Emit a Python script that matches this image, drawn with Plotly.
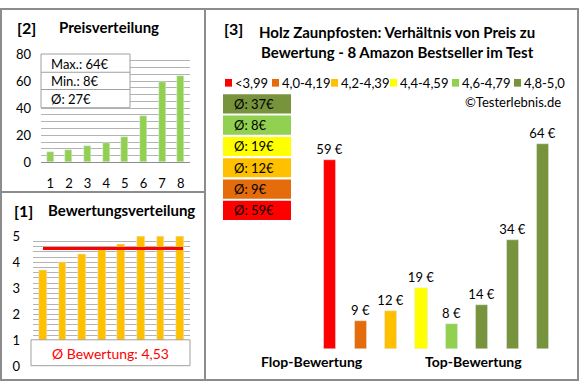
import plotly.graph_objects as go

# ---------------- data ----------------
ranks = ["1", "2", "3", "4", "5", "6", "7", "8"]
prices_sorted = [8, 9, 12, 14, 19, 34, 59, 64]
ratings_sorted = [3.7, 4.0, 4.3, 4.5, 4.7, 5.0, 5.0, 5.0]
rating_avg = 4.53
price_stats = ["Max.: 64€", "Min.: 8€", "Ø: 27€"]

bar_prices = [59, 9, 12, 19, 8, 14, 34, 64]
bar_groups = [0, 1, 2, 3, 4, 5, 5, 5]
group_labels = ["<3,99", "4,0-4,19", "4,2-4,39", "4,4-4,59", "4,6-4,79", "4,8-5,0"]
group_colors = ["#FF0000", "#E46C0A", "#FFC000", "#FFFF00", "#92D050", "#77933C"]
group_avgs = [59, 9, 12, 19, 8, 37]

W, H = 580, 390
FONT = "Lato"


def px(x):
    return x / W


def py(y):
    return 1 - y / H


fig = go.Figure()

# [2] Preisverteilung
fig.add_trace(go.Bar(x=ranks, y=prices_sorted, marker_color="#92D050", width=0.38,
                     xaxis="x", yaxis="y", showlegend=False))
# [1] Bewertungsverteilung
fig.add_trace(go.Bar(x=ranks, y=ratings_sorted, marker_color="#FFC000", width=0.4,
                     xaxis="x2", yaxis="y2", showlegend=False))
# [3] price vs rating
fig.add_trace(go.Bar(x=list(range(len(bar_prices))), y=bar_prices,
                     marker_color=[group_colors[g] for g in bar_groups], width=0.4,
                     text=[f"{p} €" for p in bar_prices], textposition="outside",
                     constraintext="none",
                     textfont=dict(family=FONT, size=13, color="#000"),
                     cliponaxis=False, xaxis="x3", yaxis="y3", showlegend=False))

GRID = "#B3B3B3"
shapes = []
annotations = []


def ann(text, x, y, size=12, bold=False, xanchor="left", color="#000"):
    if bold:
        text = f"<b>{text}</b>"
    annotations.append(dict(text=text, x=px(x), y=py(y), xref="paper", yref="paper",
                            xanchor=xanchor, yanchor="middle", showarrow=False,
                            font=dict(family=FONT, size=size, color=color)))


def rect(x0, y0, x1, y1, fill="white", line="#A0A0A0", lw=1):
    shapes.append(dict(type="rect", xref="paper", yref="paper",
                       x0=px(x0), x1=px(x1), y0=py(y0), y1=py(y1),
                       fillcolor=fill, line=dict(color=line, width=lw), layer="above"))


# panel borders
BORDER = "#8C8C8C"
shapes.append(dict(type="rect", xref="paper", yref="paper", x0=px(1), x1=px(578), y0=py(388), y1=py(1),
                   line=dict(color=BORDER, width=2), layer="above"))
shapes.append(dict(type="line", xref="paper", yref="paper", x0=px(205), x1=px(205), y0=py(388), y1=py(1),
                   line=dict(color=BORDER, width=2), layer="above"))
shapes.append(dict(type="line", xref="paper", yref="paper", x0=px(1), x1=px(205), y0=py(192), y1=py(192),
                   line=dict(color=BORDER, width=2), layer="above"))

# [2] titles + info box
ann("[2]", 15, 20, size=16, bold=True)
ann("Preisverteilung", 57, 20, size=15, bold=True)
rect(41, 48, 130, 104)
shapes.append(dict(type="line", xref="paper", yref="paper", x0=px(41), x1=px(130), y0=py(67), y1=py(67),
                   line=dict(color="#A0A0A0", width=1), layer="above"))
shapes.append(dict(type="line", xref="paper", yref="paper", x0=px(41), x1=px(130), y0=py(85), y1=py(85),
                   line=dict(color="#A0A0A0", width=1), layer="above"))
for i, s in enumerate(price_stats):
    ann(s, 49, 58 + i * 18.5, size=13)

# [1] titles + avg box + line
ann("[1]", 12, 211, size=16, bold=True)
ann("Bewertungsverteilung", 46, 211, size=15, bold=True)
rect(31, 346, 190, 373)
ann(f"Ø Bewertung: {str(rating_avg).replace('.', ',')}", 110, 360, size=14, xanchor="center", color="#FF0000")
shapes.append(dict(type="line", xref="paper", yref="y2", x0=px(43), x1=px(183),
                   y0=rating_avg, y1=rating_avg, line=dict(color="#FF0000", width=3), layer="above"))

# [3] titles
ann("[3]", 222, 21, size=16, bold=True)
ann("Holz Zaunpfosten: Verhältnis von Preis zu", 397, 25, size=15, bold=True, xanchor="center")
ann("Bewertung - 8 Amazon Bestseller im Test", 397, 46, size=15, bold=True, xanchor="center")

# legend row
sq_x = [225, 272, 331, 390, 452, 514]
for i, (lab, col) in enumerate(zip(group_labels, group_colors)):
    x0 = sq_x[i]
    shapes.append(dict(type="rect", xref="paper", yref="paper", x0=px(x0), x1=px(x0 + 7),
                       y0=py(82), y1=py(74), fillcolor=col, line=dict(width=0), layer="above"))
    ann(lab.replace("<", "&lt;"), x0 + 8, 78, size=13)

ann("©Testerlebnis.de", 563, 98, size=13, xanchor="right")

# average boxes (top: best rating group)
for row, gi in enumerate(reversed(range(len(group_labels)))):
    top = 90 + row * 22.2
    shapes.append(dict(type="rect", xref="paper", yref="paper", x0=px(223), x1=px(291),
                       y0=py(top + 20), y1=py(top), fillcolor=group_colors[gi],
                       line=dict(width=0), layer="above"))
    ann(f"Ø: {group_avgs[gi]}€", 232, top + 10, size=13)

ann("Flop-Bewertung", 312, 369, size=14, bold=True, xanchor="center")
ann("Top-Bewertung", 473, 369, size=14, bold=True, xanchor="center")

tickfont = dict(family=FONT, size=13, color="#000")

fig.update_layout(
    width=W, height=H, margin=dict(l=0, r=0, t=0, b=0),
    paper_bgcolor="white", plot_bgcolor="white",
    bargap=0, shapes=shapes, annotations=annotations,
    font=dict(family=FONT, color="#000"),
    xaxis=dict(domain=[px(41), px(190)], anchor="y", type="category", showgrid=False,
               showline=True, linecolor="#8C8C8C", tickfont=tickfont, ticks="",
               ticklabelstandoff=9, fixedrange=True),
    yaxis=dict(domain=[py(161), py(48)], anchor="x", range=[0, 80], dtick=20,
               showgrid=True, gridcolor=GRID, zeroline=False, tickfont=tickfont,
               ticklabelstandoff=9,
               minor=dict(dtick=5, showgrid=True, gridcolor=GRID)),
    xaxis2=dict(domain=[px(33), px(190)], anchor="y2", type="category", showgrid=False,
                showline=False, showticklabels=False, ticks=""),
    yaxis2=dict(domain=[py(374), py(238)], anchor="x2", range=[0, 5], dtick=1,
                showgrid=True, gridcolor=GRID, zeroline=False, tickfont=tickfont,
                ticklabelstandoff=12,
                minor=dict(dtick=0.2, showgrid=True, gridcolor=GRID)),
    xaxis3=dict(domain=[px(314.8), px(558.2)], anchor="y3", range=[-0.5, 7.5],
                visible=False),
    yaxis3=dict(domain=[py(356), py(122)], anchor="x3", range=[0, 70], visible=False),
)

fig.write_html("out.html", config={"displayModeBar": False},
               post_script="document.body.style.margin='0';document.body.style.overflow='hidden';")
